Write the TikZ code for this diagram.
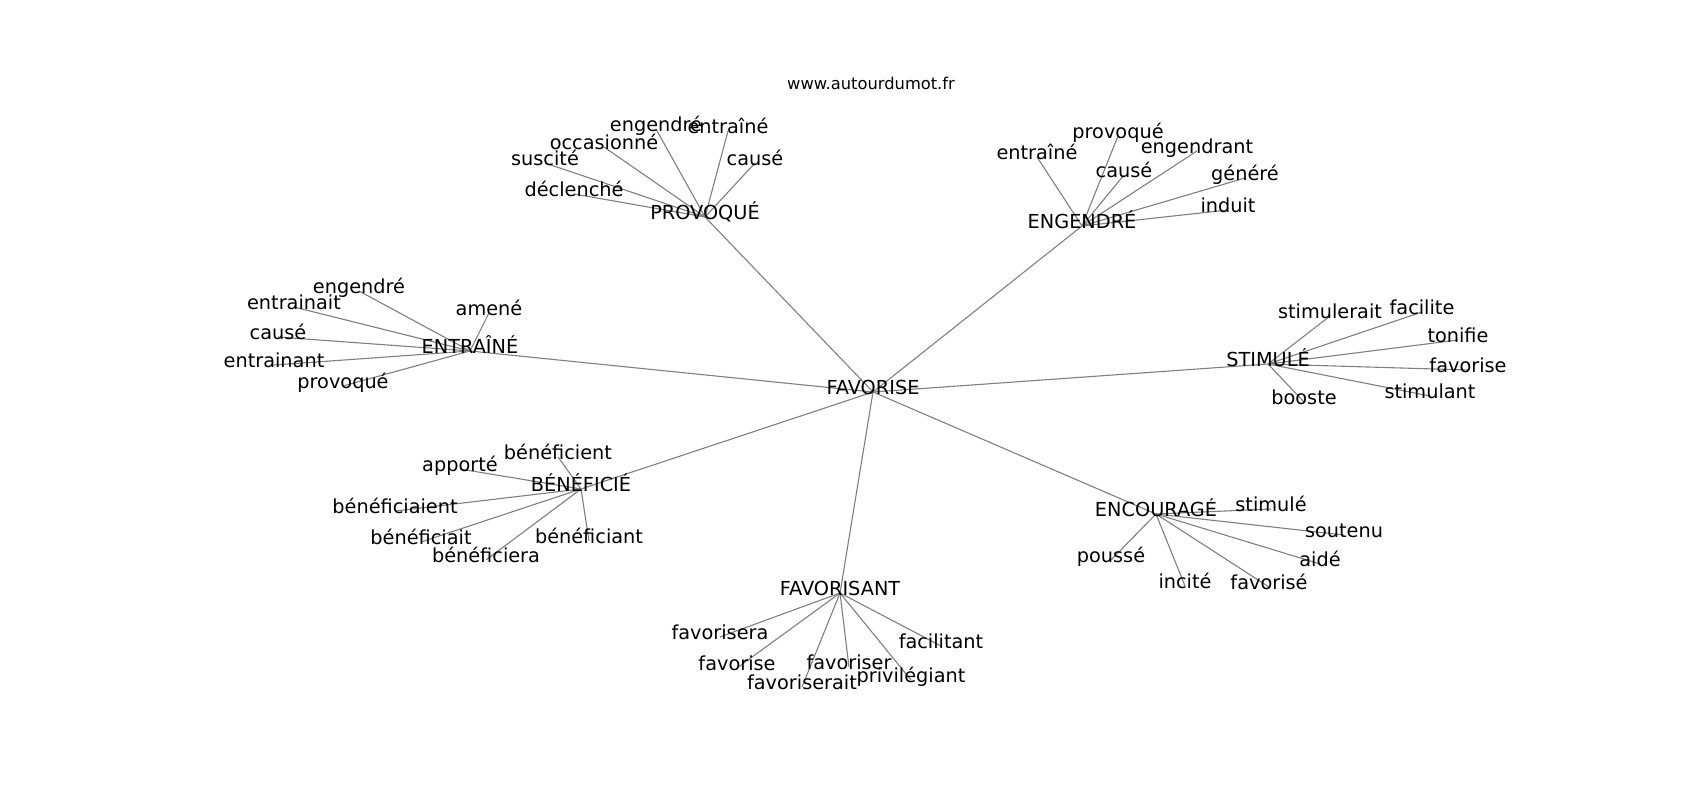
\documentclass[tikz,border=0pt]{standalone}
\usepackage{fontspec}
\setmainfont{DejaVu Sans}
\begin{document}
\begin{tikzpicture}[x=1pt,y=-1pt,
  lbl/.style={inner sep=0pt,text height=0.76em,text depth=0.21em,font=\fontsize{19.3}{21}\selectfont,text=black},
  url/.style={inner sep=0pt,font=\fontsize{16.3}{18}\selectfont,text=black},
  edge/.style={draw=gray,line width=1.1pt}]
\path[use as bounding box,fill=white] (0,0) rectangle (1700,800);
\node[url] (url) at (871,83) {www.autourdumot.fr};
\begin{scope}[yshift=-5pt]
% center
\coordinate (c) at (873,387);
% hubs
\coordinate (hP) at (705,212);
\coordinate (hG) at (1082,221);
\coordinate (hE) at (470,346);
\coordinate (hS) at (1268,359);
\coordinate (hB) at (581,484);
\coordinate (hF) at (840,588);
\coordinate (hC) at (1156,509);
% leaves PROVOQUE
\coordinate (p1) at (656,124);
\coordinate (p2) at (728,126);
\coordinate (p3) at (604,142);
\coordinate (p4) at (545,158);
\coordinate (p5) at (755,158);
\coordinate (p6) at (574,189);
% ENGENDRE
\coordinate (g1) at (1037,152);
\coordinate (g2) at (1118,131);
\coordinate (g3) at (1197,146);
\coordinate (g4) at (1124,170);
\coordinate (g5) at (1245,173);
\coordinate (g6) at (1228,205);
% ENTRAINE
\coordinate (e1) at (359,286);
\coordinate (e2) at (294,302);
\coordinate (e3) at (489,308);
\coordinate (e4) at (278,332);
\coordinate (e5) at (274,360);
\coordinate (e6) at (343,381);
% STIMULE
\coordinate (s1) at (1330,311);
\coordinate (s2) at (1422,307);
\coordinate (s3) at (1458,335);
\coordinate (s4) at (1468,365);
\coordinate (s5) at (1430,391);
\coordinate (s6) at (1304,397);
% BENEFICIE
\coordinate (b1) at (558,452);
\coordinate (b2) at (460,464);
\coordinate (b3) at (395,506);
\coordinate (b4) at (421,537);
\coordinate (b5) at (486,555);
\coordinate (b6) at (589,536);
% FAVORISANT
\coordinate (f1) at (720,632);
\coordinate (f2) at (737,663);
\coordinate (f3) at (802,682);
\coordinate (f4) at (849,662);
\coordinate (f5) at (911,675);
\coordinate (f6) at (941,641);
% ENCOURAGE
\coordinate (k1) at (1271,504);
\coordinate (k2) at (1344,530);
\coordinate (k3) at (1320,559);
\coordinate (k4) at (1269,582);
\coordinate (k5) at (1185,581);
\coordinate (k6) at (1111,555);
% edges
\foreach \h in {hP,hG,hE,hS,hB,hF,hC} \draw[edge] (c) -- (\h);
\foreach \l in {p1,p2,p3,p4,p5,p6} \draw[edge] (hP) -- (\l);
\foreach \l in {g1,g2,g3,g4,g5,g6} \draw[edge] (hG) -- (\l);
\foreach \l in {e1,e2,e3,e4,e5,e6} \draw[edge] (hE) -- (\l);
\foreach \l in {s1,s2,s3,s4,s5,s6} \draw[edge] (hS) -- (\l);
\foreach \l in {b1,b2,b3,b4,b5,b6} \draw[edge] (hB) -- (\l);
\foreach \l in {f1,f2,f3,f4,f5,f6} \draw[edge] (hF) -- (\l);
\foreach \l in {k1,k2,k3,k4,k5,k6} \draw[edge] (hC) -- (\l);
% labels
\node[lbl] (nc) at (c) {FAVORISE};
\node[lbl] (nhP) at (hP) {PROVOQUÉ};
\node[lbl] (nhG) at (hG) {ENGENDRÉ};
\node[lbl] (nhE) at (hE) {ENTRAÎNÉ};
\node[lbl] (nhS) at (hS) {STIMULÉ};
\node[lbl] (nhB) at (hB) {BÉNÉFICIÉ};
\node[lbl] (nhF) at (hF) {FAVORISANT};
\node[lbl] (nhC) at (hC) {ENCOURAGÉ};
\node[lbl] (np1) at (p1) {engendré};
\node[lbl] (np2) at (p2) {entraîné};
\node[lbl] (np3) at (p3) {occasionné};
\node[lbl] (np4) at (p4) {suscité};
\node[lbl] (np5) at (p5) {causé};
\node[lbl] (np6) at (p6) {déclenché};
\node[lbl] (ng1) at (g1) {entraîné};
\node[lbl] (ng2) at (g2) {provoqué};
\node[lbl] (ng3) at (g3) {engendrant};
\node[lbl] (ng4) at (g4) {causé};
\node[lbl] (ng5) at (g5) {généré};
\node[lbl] (ng6) at (g6) {induit};
\node[lbl] (ne1) at (e1) {engendré};
\node[lbl] (ne2) at (e2) {entrainait};
\node[lbl] (ne3) at (e3) {amené};
\node[lbl] (ne4) at (e4) {causé};
\node[lbl] (ne5) at (e5) {entrainant};
\node[lbl] (ne6) at (e6) {provoqué};
\node[lbl] (ns1) at (s1) {stimulerait};
\node[lbl] (ns2) at (s2) {facilite};
\node[lbl] (ns3) at (s3) {tonifie};
\node[lbl] (ns4) at (s4) {favorise};
\node[lbl] (ns5) at (s5) {stimulant};
\node[lbl] (ns6) at (s6) {booste};
\node[lbl] (nb1) at (b1) {bénéficient};
\node[lbl] (nb2) at (b2) {apporté};
\node[lbl] (nb3) at (b3) {bénéficiaient};
\node[lbl] (nb4) at (b4) {bénéficiait};
\node[lbl] (nb5) at (b5) {bénéficiera};
\node[lbl] (nb6) at (b6) {bénéficiant};
\node[lbl] (nf1) at (f1) {favorisera};
\node[lbl] (nf2) at (f2) {favorise};
\node[lbl] (nf3) at (f3) {favoriserait};
\node[lbl] (nf4) at (f4) {favoriser};
\node[lbl] (nf5) at (f5) {privilégiant};
\node[lbl] (nf6) at (f6) {facilitant};
\node[lbl] (nk1) at (k1) {stimulé};
\node[lbl] (nk2) at (k2) {soutenu};
\node[lbl] (nk3) at (k3) {aidé};
\node[lbl] (nk4) at (k4) {favorisé};
\node[lbl] (nk5) at (k5) {incité};
\node[lbl] (nk6) at (k6) {poussé};
\end{scope}
\end{tikzpicture}
\end{document}
